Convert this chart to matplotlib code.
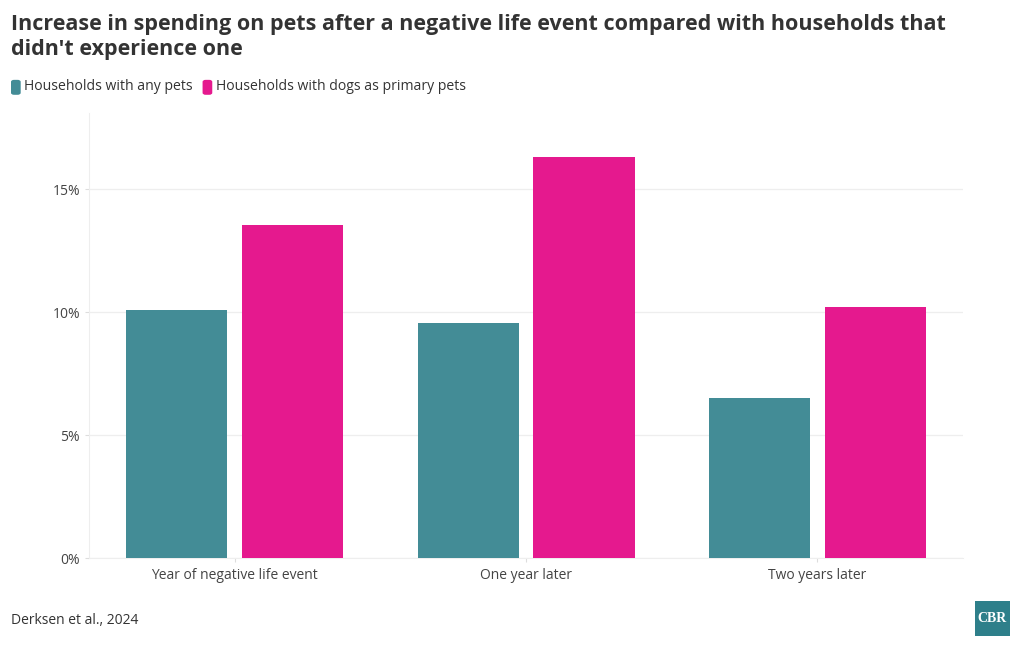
import matplotlib.pyplot as plt
import numpy as np
from matplotlib.patches import FancyBboxPatch

categories = ["Year of negative life event", "One year later", "Two years later"]
any_pets = [10.1, 9.55, 6.5]
dog_pets = [13.55, 16.3, 10.2]
series_names = ["Households with any pets", "Households with dogs as primary pets"]
yticks = [0, 5, 10, 15]
ytick_labels = ["0%", "5%", "10%", "15%"]

teal = "#438C96"
pink = "#E5198E"
text_col = "#333333"

plt.rcParams['font.family'] = ['Open Sans', 'DejaVu Sans']

fig = plt.figure(figsize=(10.2, 6.5), dpi=100)
ax = fig.add_axes([0.0873, 0.1415, 0.8569, 0.6845])

x = np.arange(len(categories))
w = 0.347
off = 0.199
ax.bar(x - off, any_pets, w, color=teal, zorder=3)
ax.bar(x + off, dog_pets, w, color=pink, zorder=3)

ax.set_xlim(-0.5, 2.5)
ax.set_ylim(0, 18.1)
ax.set_yticks(yticks)
ax.set_yticklabels(ytick_labels)
ax.set_xticks(x)
ax.set_xticklabels(categories)
ax.tick_params(axis='both', colors='#dddddd', labelcolor='#444444', labelsize=10, length=3, width=0.8)
ax.tick_params(axis='x', pad=4)
ax.grid(axis='y', color='#eeeeee', linewidth=0.9, zorder=0)
for s in ['top', 'right']:
    ax.spines[s].set_visible(False)
ax.spines['left'].set_color('#eeeeee')
ax.spines['bottom'].set_color('#eeeeee')

# title
fig.text(0.011, 0.979, "Increase in spending on pets after a negative life event compared with households that\ndidn't experience one",
         ha='left', va='top', fontsize=15.5, fontweight='bold', color=text_col, linespacing=1.25)

# legend
leg_y = 1 - 87 / 650
lx = 11 / 1020
for name, col in zip(series_names, [teal, pink]):
    box = FancyBboxPatch((lx, leg_y - 0.012), 0.0095, 0.023, boxstyle="round,pad=0,rounding_size=0.003",
                         transform=fig.transFigure, facecolor=col, edgecolor='none')
    fig.patches.append(box)
    t = fig.text(lx + 0.013, leg_y, name, ha='left', va='center', fontsize=10.1, color=text_col)
    fig.canvas.draw()
    bb = t.get_window_extent()
    lx = bb.x1 / 1020 + 0.0095

# source
fig.text(0.011, 1 - 620 / 650, "Derksen et al., 2024", ha='left', va='center', fontsize=10, color=text_col)

# logo
logo = plt.Rectangle((975 / 1020, 1 - 636 / 650), 35 / 1020, 35 / 650, transform=fig.transFigure,
                     facecolor='#2E7F8A', edgecolor='none')
fig.patches.append(logo)
fig.text(992.5 / 1020, 1 - 618.5 / 650, "CBR", ha='center', va='center', fontsize=10, fontweight='bold',
         color='white', family=['Liberation Serif', 'DejaVu Serif'])

fig.savefig("out.png", dpi=100)
